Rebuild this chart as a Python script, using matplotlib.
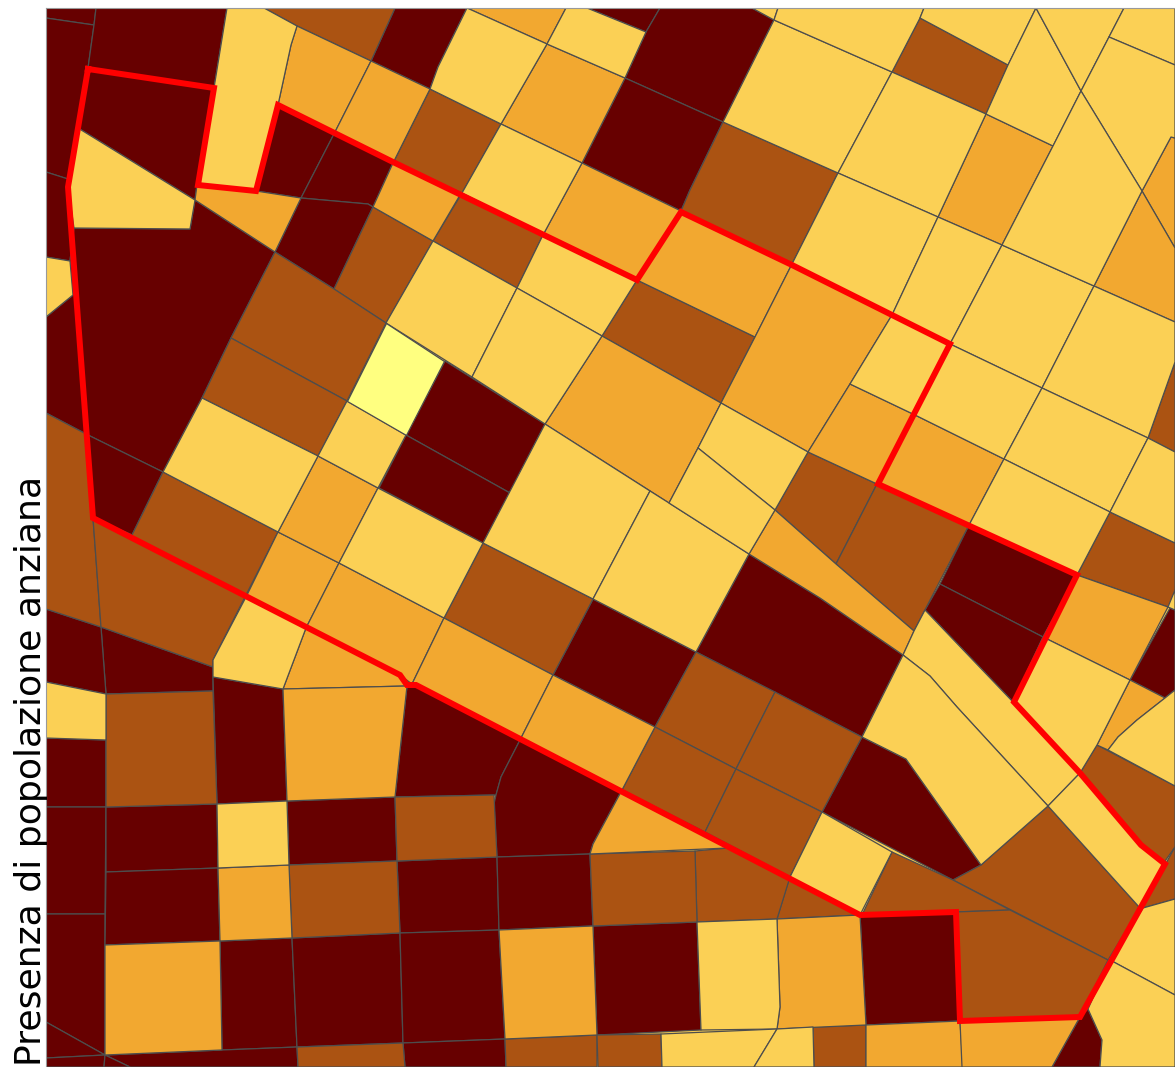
import matplotlib
matplotlib.use("Agg")
import matplotlib.pyplot as plt
from matplotlib.collections import PolyCollection

# Census cells of the map, grouped by class (map coordinates)
class_darkest = [
    [(46,8),(96,8),(94,25),(46,18)],
    [(46,18),(94,25),(88,68),(78,128),(68,187),(68,179),(46,172)],
    [(96,8),(227,8),(214,88),(197,185),(195,200),(78,128),(88,68),(94,25)],
    [(46,172),(68,179),(68,187),(74,228),(70,261),(46,257)],
    [(278,105),(335,132),(301,198),(256,191)],
    [(335,132),(393,163),(373,207),(368,204),(301,198)],
    [(301,198),(368,204),(373,207),(334,289),(275,252)],
    [(395,8),(467,8),(438,67),(430,89),(371,61)],
    [(587,8),(660,8),(646,32)],
    [(660,8),(752,8),(774,20),(723,122),(625,78),(646,32)],
    [(625,78),(723,122),(690,190),(681,211),(582,163)],
    [(46,317),(73,295),(70,261),(74,228),(190,229),(195,200),(275,252),(231,338),(202,398),(163,472),(88,435),(46,413)],
    [(88,435),(163,472),(132,535),(93,518)],
    [(445,361),(545,424),(510,493),(406,435)],
    [(406,435),(510,493),(483,543),(379,488)],
    [(593,599),(696,652),(655,727),(553,675)],
    [(749,554),(820,598),(903,655),(862,737),(696,652)],
    [(968,527),(1077,575),(1043,637),(940,584)],
    [(940,584),(1043,637),(1013,702),(925,610)],
    [(1170,608),(1175,610),(1175,690),(1165,698),(1130,680)],
    [(862,737),(906,759),(981,865),(953,880),(822,812)],
    [(407,686),(416,685),(520,740),(501,777),(496,795),(395,797)],
    [(520,740),(622,790),(593,844),(590,854),(497,857),(494,804),(496,795),(501,777)],
    [(101,627),(213,667),(213,691),(106,694)],
    [(46,609),(101,627),(106,694),(46,682)],
    [(46,738),(106,740),(106,807),(46,807)],
    [(46,807),(106,807),(105,914),(46,914)],
    [(46,914),(105,914),(105,1055),(46,1022)],
    [(46,1022),(105,1055),(46,1058)],
    [(46,1058),(105,1055),(104,1067),(46,1067)],
    [(213,677),(283,689),(287,801),(217,804)],
    [(106,807),(217,804),(218,868),(106,872)],
    [(287,801),(395,797),(397,861),(289,865)],
    [(106,872),(218,868),(220,941),(105,945)],
    [(397,861),(497,857),(499,930),(400,933)],
    [(497,857),(590,854),(593,926),(499,930)],
    [(220,941),(292,938),(297,1047),(222,1050)],
    [(292,938),(400,933),(403,1043),(297,1047)],
    [(400,933),(499,930),(505,1039),(403,1043)],
    [(593,926),(697,922),(701,1030),(597,1035)],
    [(860,915),(955,912),(960,1021),(866,1025)],
    [(105,1055),(222,1050),(297,1047),(298,1067),(130,1067)],
    [(105,1055),(130,1067),(104,1067)],
    [(403,1043),(505,1039),(506,1067),(405,1067)],
    [(1088,1009),(1102,1040),(1100,1067),(1052,1067),(1080,1017)],
]
class_dark = [
    [(264,8),(395,8),(371,61),(297,26)],
    [(430,89),(501,124),(462,193),(393,163)],
    [(723,122),(838,173),(792,264),(681,211),(690,190)],
    [(920,18),(1008,65),(986,114),(892,72)],
    [(373,207),(433,241),(386,323),(334,289)],
    [(462,193),(543,235),(517,288),(433,241)],
    [(602,336),(637,280),(755,337),(721,403)],
    [(275,252),(334,289),(386,323),(347,401),(231,338)],
    [(231,338),(347,401),(318,456),(202,398)],
    [(46,413),(88,435),(93,518),(101,627),(46,609)],
    [(93,518),(132,535),(163,472),(278,532),(213,660),(213,667),(101,627)],
    [(483,543),(593,599),(553,675),(444,618)],
    [(696,652),(775,692),(736,769),(655,727)],
    [(775,692),(862,737),(822,812),(736,769)],
    [(655,727),(736,769),(705,832),(622,790)],
    [(736,769),(822,812),(790,877),(705,832)],
    [(808,452),(877,484),(836,564),(775,510)],
    [(877,484),(968,527),(914,631),(836,564)],
    [(1110,512),(1175,543),(1175,610),(1168,607),(1077,575)],
    [(1175,362),(1148,438),(1175,452)],
    [(1097,745),(1175,786),(1175,847),(1163,864),(1141,845),(1080,773)],
    [(1165,865),(1175,847),(1175,899),(1143,908),(1140,907)],
    [(1048,806),(1140,908),(1108,960),(953,880),(981,865)],
    [(892,852),(953,880),(1010,910),(955,912),(862,915)],
    [(955,912),(1010,910),(1108,960),(1080,1017),(960,1021)],
    [(790,876),(860,915),(777,919)],
    [(695,851),(728,848),(790,877),(777,919),(697,922)],
    [(590,854),(695,851),(697,922),(593,926)],
    [(106,694),(213,691),(217,804),(106,807)],
    [(395,797),(494,795),(497,857),(397,861)],
    [(289,865),(397,861),(400,933),(292,938)],
    [(297,1047),(403,1043),(405,1067),(298,1067)],
    [(505,1039),(597,1035),(597,1067),(506,1067)],
    [(597,1035),(661,1034),(662,1067),(598,1067)],
    [(813,1027),(866,1025),(866,1067),(814,1067)],
]
class_mid = [
    [(297,26),(371,61),(335,132),(278,105),(291,45)],
    [(371,61),(430,89),(393,163),(335,132)],
    [(393,163),(460,195),(433,241),(373,207)],
    [(195,200),(197,185),(256,191),(301,198),(275,252)],
    [(467,8),(566,8),(547,44)],
    [(547,44),(625,78),(582,163),(501,124)],
    [(582,163),(681,211),(637,280),(543,235)],
    [(681,211),(792,264),(755,337),(637,280)],
    [(602,336),(721,403),(698,448),(669,503),(545,424)],
    [(792,264),(892,315),(850,384),(808,452),(721,403),(755,337)],
    [(850,384),(915,415),(877,484),(808,452)],
    [(915,415),(1004,459),(968,527),(877,484)],
    [(775,510),(836,564),(914,631),(903,655),(820,598),(749,554)],
    [(1077,575),(1168,607),(1130,680),(1043,637)],
    [(1130,680),(1165,698),(1137,720),(1118,737),(1108,750),(1097,745)],
    [(986,114),(1053,146),(1002,245),(938,217)],
    [(1171,137),(1175,138),(1175,248),(1142,191)],
    [(1142,191),(1175,248),(1175,322),(1094,286)],
    [(278,532),(339,563),(306,628),(246,597)],
    [(339,563),(444,618),(412,684),(400,675),(306,628)],
    [(306,628),(400,675),(407,686),(283,689)],
    [(444,618),(553,675),(520,740),(412,684)],
    [(553,675),(655,727),(622,790),(520,740)],
    [(318,456),(378,488),(339,563),(278,532)],
    [(283,689),(407,686),(395,797),(287,801)],
    [(622,790),(728,848),(590,854),(593,844)],
    [(218,868),(289,865),(292,938),(220,941)],
    [(105,945),(220,941),(222,1050),(105,1055)],
    [(499,930),(593,926),(597,1035),(505,1039)],
    [(777,919),(860,915),(866,1025),(777,1029),(780,1007)],
    [(866,1025),(960,1021),(963,1067),(866,1067)],
    [(960,1021),(1080,1017),(1052,1067),(962,1067)],
]
class_light = [
    [(78,128),(195,200),(190,229),(74,228),(68,187)],
    [(46,257),(70,261),(73,295),(46,317)],
    [(227,8),(264,8),(297,26),(291,45),(278,105),(256,191),(197,185),(214,88)],
    [(467,8),(547,44),(501,124),(430,89),(438,67)],
    [(566,8),(587,8),(646,32),(625,78),(547,44)],
    [(501,124),(582,163),(543,235),(462,193)],
    [(543,235),(637,280),(602,336),(517,288)],
    [(433,241),(517,288),(472,377),(386,323)],
    [(517,288),(602,336),(545,424),(472,377)],
    [(202,398),(318,456),(278,532),(163,472)],
    [(347,401),(406,435),(378,488),(318,456)],
    [(378,488),(483,543),(444,618),(339,563)],
    [(545,424),(650,491),(593,599),(483,543)],
    [(650,491),(669,503),(749,554),(696,652),(593,599)],
    [(721,403),(808,452),(775,510),(698,448)],
    [(698,448),(775,510),(749,554),(669,503)],
    [(246,597),(306,628),(283,689),(213,677),(213,660)],
    [(774,20),(892,72),(838,173),(723,122)],
    [(892,72),(986,114),(938,217),(838,173)],
    [(838,173),(938,217),(892,315),(792,264)],
    [(938,217),(1002,245),(950,344),(892,315)],
    [(1002,245),(1094,286),(1042,388),(950,344)],
    [(1094,286),(1175,322),(1175,362),(1148,438),(1042,388)],
    [(892,315),(950,344),(915,415),(850,384)],
    [(950,344),(1042,388),(1004,459),(915,415)],
    [(1042,388),(1148,438),(1110,512),(1004,459)],
    [(1004,459),(1110,512),(1077,575),(968,527)],
    [(1148,438),(1175,452),(1175,543),(1110,512)],
    [(752,8),(778,8),(774,20)],
    [(778,8),(924,8),(920,18),(892,72),(774,20)],
    [(924,8),(1036,8),(1008,65),(920,18)],
    [(1036,8),(1081,91),(1053,146),(986,114),(1008,65)],
    [(1036,8),(1124,8),(1109,37),(1081,91)],
    [(1124,8),(1175,8),(1175,65),(1109,37)],
    [(1109,37),(1175,65),(1175,138),(1171,137),(1142,191),(1081,91)],
    [(1081,91),(1142,191),(1094,286),(1002,245),(1053,146)],
    [(1043,637),(1130,680),(1097,745),(1080,773),(1013,702)],
    [(1108,750),(1118,737),(1137,720),(1165,698),(1175,690),(1175,786)],
    [(1175,590),(1175,610),(1168,607)],
    [(914,631),(925,610),(1013,702),(1080,773),(1048,806),(957,707),(930,676),(903,655)],
    [(903,655),(930,676),(957,707),(1048,806),(981,865),(906,759),(862,737)],
    [(1080,773),(1141,845),(1163,864),(1140,908),(1048,806)],
    [(822,812),(892,852),(860,915),(790,877)],
    [(1143,908),(1175,899),(1175,995),(1110,960)],
    [(1110,960),(1175,995),(1175,1067),(1100,1067),(1102,1040),(1088,1009)],
    [(46,682),(106,694),(106,740),(46,738)],
    [(217,804),(287,801),(289,865),(218,868)],
    [(697,922),(777,919),(780,1007),(777,1029),(701,1030)],
    [(661,1034),(777,1029),(754,1067),(662,1067)],
    [(777,1029),(813,1027),(814,1067),(754,1067)],
]
class_lightest = [
    [(386,323),(444,361),(406,435),(347,401)],
]
district_outline = [
    (88,69),(214,88),(198,185),(256,191),(278,105),(393,162),(637,280),(681,212),
    (792,265),(950,344),(878,484),(1077,575),(1014,702),(1080,773),(1141,845),
    (1165,864),(1080,1017),(960,1021),(956,912),(860,915),(416,685),(407,685),
    (400,675),(93,518),(68,187),
]
classes = [class_darkest, class_dark, class_mid, class_light, class_lightest]
class_colors = ["#670000", "#AB5312", "#F2A830", "#FBD055", "#FFFF80"]
y_label = "Presenza di popolazione anziana"

W, H = 1175, 1067
LEFT, TOP = 46, 8
fig = plt.figure(figsize=(W/100, H/100), dpi=100, facecolor="white")
ax = fig.add_axes([LEFT/W, 0, (W-LEFT)/W, (H-TOP)/H])
ax.set_xlim(LEFT, W)
ax.set_ylim(H, TOP)
ax.set_facecolor("#FBD055")

for cells, color in zip(classes, class_colors):
    ax.add_collection(PolyCollection(cells, facecolors=color, edgecolors="#4D4D4D",
                                     linewidths=0.9, zorder=2))

xs, ys = zip(*(district_outline + district_outline[:1]))
ax.plot(xs, ys, color="#FF0000", lw=4.3, solid_joinstyle="miter", zorder=3)

ax.set_xticks([])
ax.set_yticks([])
for side in ("right", "bottom"):
    ax.spines[side].set_visible(False)
for side in ("left", "top"):
    ax.spines[side].set_color("#999999")
    ax.spines[side].set_linewidth(0.8)
    ax.spines[side].set_zorder(4)

fig.text(31/W, 1 - 1066/H, y_label, rotation=90, ha="center", va="bottom",
         fontsize=26.1, family="DejaVu Sans", color="black")

fig.savefig("out.png", dpi=100, facecolor="white")
